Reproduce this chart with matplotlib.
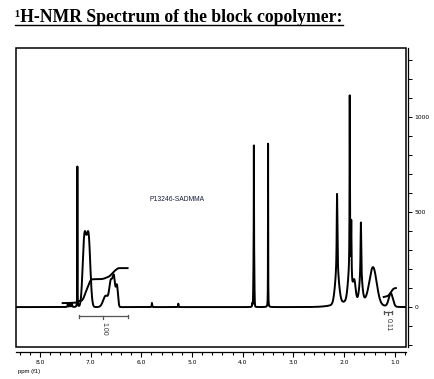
import numpy as np
import matplotlib

matplotlib.use("Agg")
import matplotlib.pyplot as plt
from matplotlib.patches import Rectangle
from matplotlib.ticker import MultipleLocator, FuncFormatter

# sharp lines (Lorentzian): position (ppm), height, half width (ppm)
sharp_ppm = [7.45, 7.41, 7.37, 7.26, 5.79, 5.27, 3.81, 3.78, 3.50, 2.14, 1.89, 1.86, 1.67]
sharp_height = [15, 20, 22, 740, 22, 18, 20, 520, 860, 430, 920, 300, 310]
sharp_width = [0.006, 0.006, 0.006, 0.002, 0.004, 0.004, 0.005, 0.002, 0.002, 0.008, 0.004, 0.006, 0.008]

# broad polymer signals (Gaussian): position (ppm), height, sigma (ppm)
broad_ppm = [7.12, 7.04, 6.70, 6.60, 6.54, 6.48, 3.78, 2.14, 1.89, 1.80, 1.67, 1.43, 1.08, 1.75]
broad_height = [365, 365, 60, 130, 150, 110, 330, 150, 150, 100, 100, 190, 70, 35]
broad_sigma = [0.035, 0.035, 0.05, 0.03, 0.025, 0.02, 0.008, 0.04, 0.035, 0.025, 0.03, 0.07, 0.04, 0.3]

# integration regions (ppm) and their values
integral_from = [7.55, 1.22]
integral_to = [6.27, 0.98]
integral_start = [21, 53]
integral_rise = [184, 47]
bracket_from = [7.23, 1.22]
bracket_to = [6.26, 1.06]
bracket_label = ["1.00", "0.11"]

ppm = np.linspace(8.47, 0.78, 30000)
spec = np.zeros_like(ppm)
for c, h, w in zip(sharp_ppm, sharp_height, sharp_width):
    spec += h * w**2 / ((ppm - c) ** 2 + w**2)
for c, h, s in zip(broad_ppm, broad_height, broad_sigma):
    spec += h * np.exp(-0.5 * ((ppm - c) / s) ** 2)

fig = plt.figure(figsize=(4.35, 3.79), dpi=100)
fig.text(0.034, 0.942, "\u00b9H-NMR Spectrum of the block copolymer:",
         family="Liberation Serif", weight="bold", fontsize=12.7, va="baseline")
fig.add_artist(plt.Line2D([0.034, 0.789], [0.934, 0.934], color="black", lw=1.0))

ax = fig.add_axes([0.0368, 0.0844, 0.8966, 0.789])
ax.plot(ppm, spec, color="black", lw=1.4)

for a, b, y0, r in zip(integral_from, integral_to, integral_start, integral_rise):
    m = (ppm <= a) & (ppm >= b)
    cum = np.cumsum(spec[m])
    cum = (cum - cum[0]) / (cum[-1] - cum[0])
    ax.plot(ppm[m], y0 + r * cum, color="black", lw=1.4)

for a, b, lab in zip(bracket_from, bracket_to, bracket_label):
    yb = -47 if lab == "1.00" else -26
    ax.plot([a, b], [yb, yb], color="#555555", lw=0.9)
    for e in (a, b):
        ax.plot([e, e], [yb - 8, yb + 8], color="#555555", lw=0.9)
    mid = (a + b) / 2
    ax.plot([mid, mid], [yb, yb - 18], color="#555555", lw=0.9)
    ax.text(mid, yb - 32, lab, rotation=270, ha="center", va="top",
            fontsize=5, color="#333333", family="Liberation Sans")

ax.text(5.84, 565, "P13246-SADMMA", fontsize=4.9, color="#1a1f3a",
        family="Liberation Sans", va="center")

ax.set_xlim(8.47, 0.78)
ax.set_ylim(-210, 1363)
ax.add_patch(Rectangle((0, 0), 1, 1, transform=ax.transAxes, fill=False,
                       lw=1.1, edgecolor="black", clip_on=False))
ax.spines["top"].set_visible(False)
ax.spines["left"].set_visible(False)
ax.spines["bottom"].set_position(("outward", 3.6))
ax.spines["right"].set_position(("outward", 1.5))
ax.spines["bottom"].set_linewidth(0.9)
ax.spines["right"].set_linewidth(0.9)

ax.xaxis.set_major_locator(MultipleLocator(1.0))
ax.xaxis.set_minor_locator(MultipleLocator(0.2))
ax.xaxis.set_major_formatter(FuncFormatter(lambda v, p: f"{v:.1f}"))
ax.tick_params(axis="x", which="major", length=3.5, width=0.8, labelsize=4.3, pad=2)
ax.tick_params(axis="x", which="minor", length=2.5, width=0.8)

ax.yaxis.tick_right()
ax.yaxis.set_major_locator(MultipleLocator(500))
ax.yaxis.set_minor_locator(MultipleLocator(100))
ax.tick_params(axis="y", which="both", length=3, width=0.7, labelsize=4.3, pad=1.5)
ax.yaxis.set_major_formatter(FuncFormatter(lambda v, p: f"{v:.0f}" if v >= 0 else ""))

fig.text(0.041, 0.016, "ppm (f1)", fontsize=4.3, family="Liberation Sans")

fig.savefig("out.png", dpi=100)
